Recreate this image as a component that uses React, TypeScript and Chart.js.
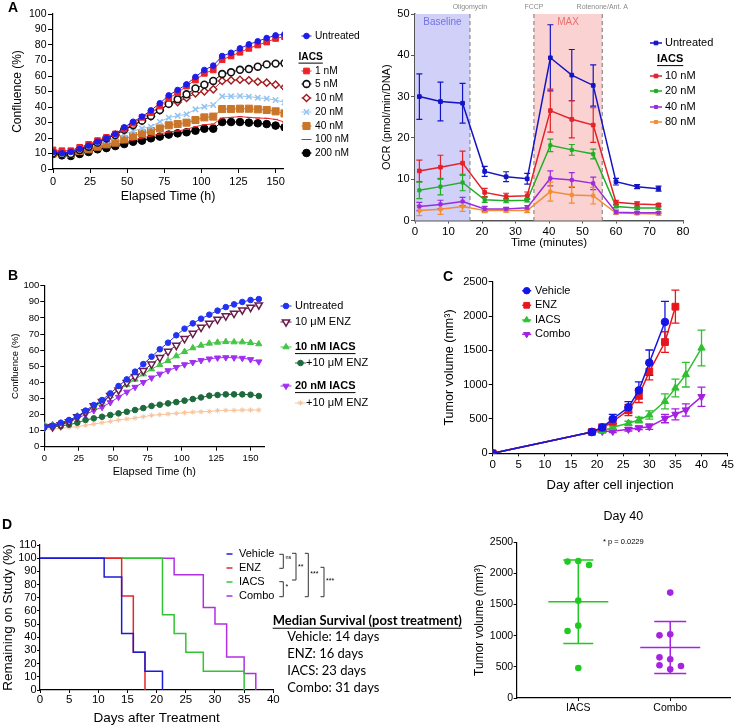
import React, { useEffect, useRef } from 'react';
import { Chart, registerables } from 'chart.js';

Chart.register(...registerables);

const FONT = "'Liberation Sans', Arial, Helvetica, sans-serif";
Chart.defaults.font.family = FONT;
Chart.defaults.color = '#000';

// ---------------- Panel A (left): confluence vs time ----------------
const A_HOURS = [0, 6, 12, 18, 24, 30, 36, 42, 48, 54, 60, 66, 72, 78, 84, 90, 96, 102, 108, 114, 120, 126, 132, 138, 144, 150, 156];
const A_UNTREATED = [10.8, 10.1, 11.0, 12.9, 15.0, 17.6, 19.8, 22.6, 26.9, 30.5, 33.8, 37.8, 42.4, 47.5, 51.0, 54.6, 59.4, 63.9, 66.7, 72.9, 75.0, 77.8, 80.4, 82.4, 84.5, 86.2, 87.0];
const A_1NM = [12.3, 11.8, 11.8, 14.0, 15.9, 18.3, 20.4, 22.6, 26.0, 29.5, 33.3, 36.3, 40.6, 45.6, 49.2, 53.5, 57.4, 61.7, 63.9, 70.5, 72.9, 75.3, 77.8, 80.0, 81.9, 84.2, 85.4];
const A_5NM = [10.1, 9.5, 9.7, 12.3, 14.4, 17.0, 19.8, 21.9, 25.4, 28.4, 31.2, 34.2, 38.0, 42.0, 45.0, 48.2, 52.0, 54.4, 56.8, 61.3, 62.4, 64.0, 64.5, 66.0, 67.5, 68.0, 68.2];
const A_10NM = [11.0, 10.8, 10.5, 13.0, 15.0, 17.5, 19.5, 22.0, 25.0, 28.0, 31.0, 34.0, 37.8, 42.0, 43.2, 45.8, 48.8, 50.1, 51.4, 56.8, 57.2, 57.6, 57.2, 56.3, 55.7, 54.4, 52.7];
const A_20NM = [11.2, 11.0, 11.2, 12.9, 14.4, 16.6, 18.3, 20.4, 22.4, 24.5, 26.2, 27.3, 30.5, 33.1, 34.4, 35.3, 38.5, 40.2, 41.3, 46.9, 46.9, 47.1, 46.7, 46.0, 45.4, 44.5, 43.0];
const A_40NM = [10.1, 9.7, 9.7, 11.6, 12.7, 14.4, 15.9, 17.0, 19.1, 21.3, 23.0, 24.5, 26.2, 28.2, 29.0, 29.9, 31.6, 33.3, 33.8, 38.7, 38.7, 38.9, 38.9, 38.5, 38.1, 37.2, 35.9];
const A_100NM = [11.0, 10.1, 10.1, 11.6, 12.7, 13.8, 14.8, 16.1, 17.0, 18.7, 20.0, 21.3, 22.6, 23.9, 24.5, 25.6, 27.3, 28.6, 29.0, 32.9, 33.3, 33.8, 33.3, 32.9, 32.7, 32.0, 30.3];
const A_200NM = [9.7, 8.8, 8.4, 9.7, 11.0, 12.7, 13.5, 14.8, 16.1, 17.6, 18.3, 19.8, 20.9, 22.2, 23.0, 23.7, 24.7, 26.0, 26.0, 30.3, 30.3, 30.3, 29.9, 29.5, 29.0, 28.0, 26.9];
const A_X_TICKS = [0, 25, 50, 75, 100, 125, 150];

// ---------------- Panel A (right): OCR ----------------
const OCR_MINUTES = [1.3, 7.6, 14.2, 20.8, 27.2, 33.5, 40.4, 46.8, 53.2, 60.0, 66.3, 72.7];
const OCR_UNTREATED = [30.0, 28.8, 28.4, 11.9, 10.6, 10.1, 39.4, 35.2, 32.7, 9.4, 8.2, 7.7];
const OCR_UNTREATED_ERR = [5.5, 4.7, 4.8, 1.2, 1.2, 1.3, 8.0, 6.2, 5.0, 0.8, 0.5, 0.6];
const OCR_10NM = [12.0, 12.9, 13.9, 6.8, 5.8, 6.0, 26.6, 24.5, 23.1, 4.4, 4.0, 3.8];
const OCR_10NM_ERR = [2.6, 2.9, 2.9, 1.0, 0.8, 0.9, 5.2, 4.5, 4.2, 0.5, 0.5, 0.3];
const OCR_20NM = [7.3, 8.2, 9.2, 5.0, 4.8, 4.9, 18.2, 17.1, 16.1, 3.4, 3.0, 3.0];
const OCR_20NM_ERR = [2.0, 2.0, 2.0, 0.6, 0.5, 0.4, 1.5, 1.3, 1.2, 0.3, 0.3, 0.3];
const OCR_40NM = [3.4, 3.9, 4.6, 2.8, 2.8, 3.1, 10.2, 9.8, 9.0, 2.0, 1.9, 1.9];
const OCR_40NM_ERR = [1.0, 1.0, 1.0, 0.6, 0.4, 0.5, 1.8, 1.8, 1.5, 0.5, 0.3, 0.2];
const OCR_80NM = [2.4, 2.7, 3.4, 2.4, 2.4, 2.4, 7.0, 6.2, 6.0, 1.8, 1.7, 1.6];
const OCR_80NM_ERR = [1.2, 1.2, 1.2, 0.5, 0.4, 0.5, 2.3, 2.0, 2.0, 0.3, 0.3, 0.3];
const OCR_INJECTION_NAMES = ['Oligomycin', 'FCCP', 'Rotenone/Ant. A'];
const OCR_INJECTION_TIMES = [16.4, 35.5, 55.9];
const OCR_BASELINE = [0, 16.4];
const OCR_MAX = [35.5, 55.9];

// ---------------- Panel B ----------------
const B_HOURS = [0, 6, 12, 18, 24, 30, 36, 42, 48, 54, 60, 66, 72, 78, 84, 90, 96, 102, 108, 114, 120, 126, 132, 138, 144, 150, 156];
const B_UNTREATED = [12.0, 13.0, 14.9, 16.6, 18.8, 22.4, 25.9, 29.0, 33.1, 37.7, 41.8, 46.6, 51.3, 55.9, 60.5, 64.6, 69.2, 73.3, 76.6, 79.5, 82.0, 84.5, 86.7, 88.4, 89.9, 91.1, 91.7];
const B_ENZ = [12.0, 12.4, 13.5, 15.5, 18.6, 21.5, 25.3, 28.0, 31.7, 35.2, 39.8, 43.5, 47.2, 51.3, 55.3, 59.2, 62.9, 67.1, 70.4, 74.1, 76.6, 79.1, 81.2, 82.8, 84.9, 86.5, 88.0];
const B_IACS10 = [13.3, 13.7, 14.5, 16.1, 19.0, 21.7, 24.8, 27.7, 31.5, 35.6, 38.5, 41.8, 45.1, 48.2, 50.9, 53.4, 56.3, 59.0, 61.3, 62.9, 64.2, 64.8, 65.2, 65.0, 65.0, 64.6, 63.8];
const B_IACS10_ENZ = [12.0, 12.4, 12.8, 13.7, 14.9, 16.6, 17.6, 18.6, 19.7, 20.7, 21.7, 22.8, 24.0, 25.3, 26.1, 26.9, 27.7, 28.6, 29.6, 30.6, 31.7, 32.1, 32.5, 32.5, 32.5, 32.3, 31.5];
const B_IACS20 = [13.0, 13.3, 14.0, 15.5, 17.5, 20.0, 22.5, 24.5, 27.5, 30.8, 34.0, 37.0, 40.0, 42.8, 45.2, 47.3, 49.3, 51.0, 52.4, 53.6, 54.6, 55.2, 55.4, 55.3, 55.0, 54.2, 52.8];
const B_IACS20_ENZ = [10.8, 11.0, 11.4, 12.0, 12.4, 13.3, 14.1, 14.9, 15.7, 16.6, 17.2, 17.8, 18.6, 19.5, 19.9, 20.3, 20.7, 21.1, 21.5, 21.7, 21.9, 22.4, 22.6, 22.6, 22.8, 22.8, 22.8];

// ---------------- Panel C ----------------
const C_VEHICLE_DAYS = [0, 19, 21, 23, 26, 28, 30, 33];
const C_VEHICLE = [0, 311, 379, 500, 670, 917, 1320, 1913];
const C_VEHICLE_ERR = [0, 30, 45, 68, 82, 125, 185, 300];
const C_ENZ_DAYS = [0, 19, 21, 23, 26, 28, 30, 33, 35];
const C_ENZ = [0, 311, 369, 461, 631, 840, 1189, 1621, 2136];
const C_ENZ_ERR = [0, 25, 40, 60, 80, 100, 120, 150, 240];
const C_IACS_DAYS = [0, 19, 21, 23, 26, 28, 30, 33, 35, 37, 40];
const C_IACS = [0, 311, 325, 379, 437, 485, 558, 757, 951, 1146, 1534];
const C_IACS_ERR = [0, 20, 25, 30, 30, 40, 60, 110, 130, 180, 260];
const C_COMBO_DAYS = [0, 19, 21, 23, 26, 28, 30, 33, 35, 37, 40];
const C_COMBO = [0, 311, 320, 320, 350, 369, 388, 505, 568, 631, 825];
const C_COMBO_ERR = [0, 20, 20, 20, 25, 25, 40, 60, 80, 90, 140];

// ---------------- Panel D (left): survival ----------------
const D_VEHICLE_T = [0, 11, 14, 16, 18, 21];
const D_VEHICLE_S = [100, 85.7, 42.9, 28.6, 14.3, 0];
const D_ENZ_T = [0, 14, 16, 18];
const D_ENZ_S = [100, 71.4, 28.6, 0];
const D_IACS_T = [0, 21, 23, 25, 28, 35];
const D_IACS_S = [100, 57.1, 42.9, 28.6, 14.3, 0];
const D_COMBO_T = [0, 23, 28, 30, 32, 35, 37];
const D_COMBO_S = [100, 87.5, 62.5, 50, 25, 12.5, 0];
const D_MEDIAN_TITLE = 'Median Survival (post treatment)';
const D_MEDIAN_LINES = ['Vehicle: 14 days', 'ENZ: 16 days', 'IACS: 23 days', 'Combo: 31 days'];
const D_SIG = ['ns', '*', '**', '***', '***'];

// ---------------- Panel D (right): day 40 ----------------
const D40_GROUPS = ['IACS', 'Combo'];
const D40_IACS = [2200, 2190, 2136, 1563, 1162, 1076, 482];
const D40_COMBO = [1692, 1022, 1006, 621, 653, 525, 460, 514];
const D40_PVALUE = '* p = 0.0229';

// ====================== helpers ======================
function series(label: string, xs: number[], ys: number[], st: any) {
  return {
    label,
    data: xs.map((x, i) => ({ x, y: ys[i] })),
    borderColor: st.color,
    backgroundColor: st.fill ?? st.color,
    borderWidth: st.lw ?? 1,
    pointStyle: st.style ?? 'circle',
    pointRadius: st.r ?? 0,
    pointHoverRadius: st.r ?? 0,
    pointRotation: st.rot ?? 0,
    pointBackgroundColor: st.fill ?? st.color,
    pointBorderColor: st.color,
    pointBorderWidth: st.pbw ?? 1,
    tension: 0,
    fill: false,
    stepped: st.stepped ?? false,
    showLine: st.showLine ?? true,
    errorBars: st.err,
    errCap: st.cap ?? 3,
  };
}

function linAxis(o: any) {
  const ticks: any = {
    font: { size: o.fs },
    padding: o.pad,
    color: '#000',
    autoSkip: false,
    maxRotation: 0,
    callback: o.cb ?? ((v: any) => String(v)),
  };
  if (o.step !== undefined) ticks.stepSize = o.step;
  const ax: any = {
    type: 'linear',
    min: o.min,
    max: o.max,
    afterFit: (s: any) => {
      if (o.w !== undefined) s.width = o.w;
      if (o.h !== undefined) s.height = o.h;
    },
    ticks,
    grid: { drawOnChartArea: false, drawTicks: true, tickLength: o.tl, color: o.color || '#000', lineWidth: 1 },
    border: { display: true, color: o.color || '#000', width: o.bw || 1.2 },
    title: o.title
      ? { display: true, text: o.title, font: { size: o.tfs }, padding: o.tpad, color: '#000' }
      : { display: false },
  };
  if (o.tickValues) {
    ax.afterBuildTicks = (s: any) => {
      s.ticks = o.tickValues.map((v: number) => ({ value: v }));
    };
  }
  return ax;
}

function baseOptions(padding: any) {
  return {
    responsive: false,
    maintainAspectRatio: false,
    animation: false,
    events: [],
    layout: { padding },
    plugins: { legend: { display: false }, tooltip: { enabled: false }, title: { display: false } },
  };
}

function drawMarker(ctx: any, style: string, r: number, rotDeg: number, x: number, y: number, fill: string, stroke: string, bw: number) {
  if (!r) return;
  ctx.save();
  ctx.translate(x, y);
  ctx.rotate(((rotDeg || 0) * Math.PI) / 180);
  ctx.beginPath();
  let fillable = true;
  switch (style) {
    case 'rect': {
      const s = r * Math.SQRT1_2;
      ctx.rect(-s, -s, 2 * s, 2 * s);
      break;
    }
    case 'rectRot': {
      ctx.moveTo(0, -r);
      ctx.lineTo(r, 0);
      ctx.lineTo(0, r);
      ctx.lineTo(-r, 0);
      ctx.closePath();
      break;
    }
    case 'triangle': {
      for (let k = 0; k < 3; k++) {
        const a = (k * 2 * Math.PI) / 3;
        const px = Math.sin(a) * r;
        const py = -Math.cos(a) * r;
        if (k === 0) ctx.moveTo(px, py);
        else ctx.lineTo(px, py);
      }
      ctx.closePath();
      break;
    }
    case 'crossRot': {
      fillable = false;
      const s = r * Math.SQRT1_2;
      ctx.moveTo(-s, -s); ctx.lineTo(s, s);
      ctx.moveTo(-s, s); ctx.lineTo(s, -s);
      break;
    }
    case 'star': {
      fillable = false;
      const s = r * Math.SQRT1_2;
      ctx.moveTo(-s, -s); ctx.lineTo(s, s);
      ctx.moveTo(-s, s); ctx.lineTo(s, -s);
      ctx.moveTo(0, -r); ctx.lineTo(0, r);
      ctx.moveTo(-r, 0); ctx.lineTo(r, 0);
      break;
    }
    case 'line': {
      fillable = false;
      ctx.moveTo(-r, 0);
      ctx.lineTo(r, 0);
      break;
    }
    default:
      ctx.arc(0, 0, r, 0, Math.PI * 2);
  }
  if (fillable) {
    ctx.fillStyle = fill;
    ctx.fill();
  }
  if (bw > 0) {
    ctx.lineWidth = bw;
    ctx.strokeStyle = stroke;
    ctx.stroke();
  }
  ctx.restore();
}

function fontStr(size: number, bold?: boolean, family?: string) {
  return `${bold ? 'bold ' : ''}${size}px ${family || FONT}`;
}

function panelPlugin(spec: any) {
  return {
    id: 'panelDecor',
    beforeDatasetsDraw(chart: any) {
      const { ctx, chartArea: ca, scales } = chart;
      const xs = scales.x;
      const ys = scales.y;
      (spec.boxes || []).forEach((b: any) => {
        const x1 = xs.getPixelForValue(b.from);
        const x2 = xs.getPixelForValue(b.to);
        ctx.save();
        ctx.fillStyle = b.color;
        ctx.fillRect(x1, ca.top, x2 - x1, ca.bottom - ca.top);
        ctx.restore();
      });
      (spec.vlines || []).forEach((v: any) => {
        const x = xs.getPixelForValue(v.x);
        ctx.save();
        ctx.strokeStyle = v.color;
        ctx.lineWidth = v.width || 1;
        ctx.setLineDash(v.dash || []);
        ctx.beginPath();
        ctx.moveTo(x, ca.top);
        ctx.lineTo(x, ca.bottom);
        ctx.stroke();
        ctx.restore();
      });
      chart.data.datasets.forEach((ds: any, i: number) => {
        if (!ds.errorBars) return;
        const meta = chart.getDatasetMeta(i);
        ctx.save();
        ctx.strokeStyle = ds.borderColor;
        ctx.lineWidth = spec.errWidth || 1.2;
        meta.data.forEach((el: any, j: number) => {
          const e = ds.errorBars[j];
          if (!e) return;
          const v = ds.data[j].y;
          const yT = ys.getPixelForValue(v + e);
          const yB = ys.getPixelForValue(v - e);
          const c = ds.errCap;
          ctx.beginPath();
          ctx.moveTo(el.x, yT);
          ctx.lineTo(el.x, yB);
          ctx.moveTo(el.x - c, yT);
          ctx.lineTo(el.x + c, yT);
          ctx.moveTo(el.x - c, yB);
          ctx.lineTo(el.x + c, yB);
          ctx.stroke();
        });
        ctx.restore();
      });
    },
    afterDatasetsDraw(chart: any) {
      const { ctx, scales } = chart;
      const xs = scales.x;
      const ys = scales.y;
      (spec.meanSd || []).forEach((m: any) => {
        const ds = chart.data.datasets[m.ds];
        const vals = ds.data.map((p: any) => p.y);
        const n = vals.length;
        const mean = vals.reduce((a: number, b: number) => a + b, 0) / n;
        const sd = Math.sqrt(vals.reduce((a: number, b: number) => a + (b - mean) * (b - mean), 0) / (n - 1));
        const cx = xs.getPixelForValue(m.center);
        const yM = ys.getPixelForValue(mean);
        const yT = ys.getPixelForValue(mean + sd);
        const yB = ys.getPixelForValue(mean - sd);
        ctx.save();
        ctx.strokeStyle = ds.borderColor;
        ctx.lineWidth = m.width || 1.5;
        ctx.beginPath();
        ctx.moveTo(cx - m.half, yM); ctx.lineTo(cx + m.half, yM);
        ctx.moveTo(cx, yT); ctx.lineTo(cx, yB);
        ctx.moveTo(cx - m.cap, yT); ctx.lineTo(cx + m.cap, yT);
        ctx.moveTo(cx - m.cap, yB); ctx.lineTo(cx + m.cap, yB);
        ctx.stroke();
        ctx.restore();
      });
    },
    afterDraw(chart: any) {
      const { ctx, chartArea: ca, scales } = chart;
      const xs = scales.x;
      (spec.lines || []).forEach((l: any) => {
        ctx.save();
        ctx.strokeStyle = l.color || '#333';
        ctx.lineWidth = l.width || 1;
        ctx.beginPath();
        ctx.moveTo(l.x1, l.y1);
        ctx.lineTo(l.x2, l.y2);
        ctx.stroke();
        ctx.restore();
      });
      (spec.texts || []).forEach((t: any) => {
        let x = t.x;
        if (t.xData !== undefined) x = xs.getPixelForValue(t.xData);
        if (t.xca !== undefined) x = ca.left + t.xca * (ca.right - ca.left);
        ctx.save();
        ctx.font = fontStr(t.size, t.bold, t.family);
        ctx.fillStyle = t.color || '#000';
        ctx.textAlign = t.align || 'left';
        ctx.textBaseline = 'middle';
        ctx.fillText(t.text, x, t.y);
        if (t.underline) {
          const w = ctx.measureText(t.text).width;
          const x0 = t.align === 'center' ? x - w / 2 : x;
          ctx.strokeStyle = t.color || '#000';
          ctx.lineWidth = 1;
          ctx.beginPath();
          ctx.moveTo(x0, t.y + t.size * 0.58);
          ctx.lineTo(x0 + w, t.y + t.size * 0.58);
          ctx.stroke();
        }
        ctx.restore();
      });
      const L = spec.legend;
      if (L) {
        L.items.forEach((it: any) => {
          const mx = it.mx ?? L.mx;
          const tx = it.tx ?? L.tx;
          let label = it.text;
          if (it.ds !== undefined) {
            const ds = chart.data.datasets[it.ds];
            label = label ?? ds.label;
            if (L.lineHalf > 0) {
              ctx.save();
              ctx.strokeStyle = ds.borderColor;
              ctx.lineWidth = ds.borderWidth;
              ctx.beginPath();
              ctx.moveTo(mx - L.lineHalf, it.y);
              ctx.lineTo(mx + L.lineHalf, it.y);
              ctx.stroke();
              ctx.restore();
            }
            drawMarker(ctx, ds.pointStyle, ds.pointRadius * (L.markerScale || 1), ds.pointRotation, mx, it.y,
              ds.pointBackgroundColor, ds.pointBorderColor, ds.pointBorderWidth);
          }
          ctx.save();
          ctx.font = fontStr(L.size, it.bold);
          ctx.fillStyle = '#000';
          ctx.textAlign = 'left';
          ctx.textBaseline = 'middle';
          const x0 = it.hx ?? tx;
          ctx.fillText(label, x0, it.y);
          if (it.underline) {
            const w = ctx.measureText(label).width;
            ctx.strokeStyle = '#000';
            ctx.lineWidth = 1;
            ctx.beginPath();
            ctx.moveTo(x0, it.y + L.size * 0.6);
            ctx.lineTo(x0 + w, it.y + L.size * 0.6);
            ctx.stroke();
          }
          ctx.restore();
        });
      }
    },
  };
}

function bracket(x: number, y1: number, y2: number, arm: number) {
  return [
    { x1: x - arm, y1, x2: x, y2: y1 },
    { x1: x, y1, x2: x, y2 },
    { x1: x - arm, y1: y2, x2: x, y2 },
  ];
}

function swarm(values: number[], thr: number, step: number) {
  const placed: any[] = [];
  const slots = [0, -1, 1, -2, 2, -3, 3];
  return values.map((v) => {
    for (const c of slots) {
      if (!placed.some((p) => p.c === c && Math.abs(p.v - v) < thr)) {
        placed.push({ v, c });
        return c * step;
      }
    }
    return 0;
  });
}

// ====================== chart configs ======================
function configALeft() {
  const datasets = [
    series('Untreated', A_HOURS, A_UNTREATED, { color: '#1d1dea', style: 'circle', r: 2.8, lw: 1 }),
    series('1 nM', A_HOURS, A_1NM, { color: '#ec2227', style: 'rect', r: 4, lw: 1 }),
    series('5 nM', A_HOURS, A_5NM, { color: '#111', fill: '#fff', style: 'circle', r: 3.4, lw: 1, pbw: 1.6 }),
    series('10 nM', A_HOURS, A_10NM, { color: '#a3191b', fill: '#fff', style: 'rectRot', r: 3.6, lw: 1, pbw: 1.4 }),
    series('20 nM', A_HOURS, A_20NM, { color: '#93c4ef', style: 'crossRot', r: 3.8, lw: 1, pbw: 1.5 }),
    series('40 nM', A_HOURS, A_40NM, { color: '#c9762a', style: 'rect', r: 5, lw: 1 }),
    series('100 nM', A_HOURS, A_100NM, { color: '#e4262c', style: 'line', r: 2.5, lw: 1, pbw: 1 }),
    series('200 nM', A_HOURS, A_200NM, { color: '#000', style: 'circle', r: 3.8, lw: 1 }),
  ];
  const spec = {
    texts: [{ text: 'A', x: 13, y: 8, size: 14, bold: true, align: 'center' }],
    legend: {
      size: 10.2, mx: 306.5, tx: 315, lineHalf: 5,
      items: [
        { ds: 0, y: 36 },
        { text: 'IACS', hx: 298.5, y: 57, bold: true, underline: true },
        { ds: 1, y: 71 }, { ds: 2, y: 84 }, { ds: 3, y: 98 }, { ds: 4, y: 112 },
        { ds: 5, y: 126 }, { ds: 6, y: 139.5 }, { ds: 7, y: 153 },
      ],
    },
  };
  return {
    type: 'line',
    data: { datasets },
    options: {
      ...baseOptions({ left: 0, top: 14, right: 87, bottom: 0 }),
      scales: {
        x: linAxis({ min: 0, max: 155, tickValues: A_X_TICKS, h: 46, fs: 11, tl: 4, pad: 2, title: 'Elapsed Time (h)', tfs: 12.5, tpad: { top: 0, bottom: 10.5 } }),
        y: linAxis({ min: 0, max: 100, step: 10, w: 53, fs: 10.5, tl: 5, pad: 1.5, title: 'Confluence (%)', tfs: 12, tpad: { top: 10.8, bottom: 0 } }),
      },
    },
    plugins: [panelPlugin(spec)],
  };
}

function configARight() {
  const datasets = [
    series('Untreated', OCR_MINUTES, OCR_UNTREATED, { color: '#1414c4', style: 'rect', r: 2.6, lw: 1.5, err: OCR_UNTREATED_ERR, cap: 3 }),
    series('10 nM', OCR_MINUTES, OCR_10NM, { color: '#e3222a', style: 'rect', r: 2.6, lw: 1.5, err: OCR_10NM_ERR, cap: 3 }),
    series('20 nM', OCR_MINUTES, OCR_20NM, { color: '#1fae25', style: 'rect', r: 2.2, lw: 1.5, err: OCR_20NM_ERR, cap: 3 }),
    series('40 nM', OCR_MINUTES, OCR_40NM, { color: '#9a2ddb', style: 'rect', r: 2.2, lw: 1.5, err: OCR_40NM_ERR, cap: 3 }),
    series('80 nM', OCR_MINUTES, OCR_80NM, { color: '#f28c36', style: 'rect', r: 2.2, lw: 1.5, err: OCR_80NM_ERR, cap: 3 }),
  ];
  const spec = {
    boxes: [
      { from: OCR_BASELINE[0], to: OCR_BASELINE[1], color: '#d0d0f9' },
      { from: OCR_MAX[0], to: OCR_MAX[1], color: '#fbd2d2' },
    ],
    vlines: OCR_INJECTION_TIMES.map((t) => ({ x: t, color: '#8a8a8a', dash: [4, 3], width: 1.2 })),
    errWidth: 1.2,
    texts: [
      ...OCR_INJECTION_NAMES.map((n, i) => ({ text: n, xData: OCR_INJECTION_TIMES[i], y: 7, size: 7, color: '#8a8a8a', align: 'center' })),
      { text: 'Baseline', xData: (OCR_BASELINE[0] + OCR_BASELINE[1]) / 2, y: 22, size: 10, color: '#7373e6', align: 'center' },
      { text: 'MAX', xData: (OCR_MAX[0] + OCR_MAX[1]) / 2, y: 22, size: 10, color: '#ea6f70', align: 'center' },
    ],
    legend: {
      size: 11, mx: 286, tx: 295, lineHalf: 6,
      items: [
        { ds: 0, y: 43 },
        { text: 'IACS', hx: 287, y: 59, bold: true, underline: true },
        { ds: 1, y: 76 }, { ds: 2, y: 91 }, { ds: 3, y: 107 }, { ds: 4, y: 122 },
      ],
    },
  };
  return {
    type: 'line',
    data: { datasets },
    options: {
      ...baseOptions({ left: 0, top: 14, right: 53, bottom: 0 }),
      scales: {
        x: linAxis({ min: 0, max: 80, step: 10, h: 31.5, fs: 11.5, tl: 3, pad: 1.5, color: '#555', bw: 1.5, title: 'Time (minutes)', tfs: 11.5, tpad: { top: 0, bottom: 1.8 } }),
        y: linAxis({ min: 0, max: 50, step: 10, w: 45, fs: 11, tl: 4, pad: 1.5, color: '#555', bw: 1.5, title: 'OCR (pmol/min/DNA)', tfs: 11, tpad: { top: 10.1, bottom: 0 } }),
      },
    },
    plugins: [panelPlugin(spec)],
  };
}

function configB() {
  const datasets = [
    series('Untreated', B_HOURS, B_UNTREATED, { color: '#2233f2', style: 'circle', r: 2.8, lw: 1 }),
    series('10 μM ENZ', B_HOURS, B_ENZ, { color: '#6a1d4c', fill: '#fff', style: 'triangle', rot: 180, r: 4.2, lw: 1, pbw: 1.5 }),
    series('10 nM IACS', B_HOURS, B_IACS10, { color: '#47c447', style: 'triangle', r: 3.6, lw: 1 }),
    series('+10 μM ENZ', B_HOURS, B_IACS10_ENZ, { color: '#1d6a3d', style: 'circle', r: 2.8, lw: 1 }),
    series('20 nM IACS', B_HOURS, B_IACS20, { color: '#a12ff0', style: 'triangle', rot: 180, r: 3.6, lw: 1 }),
    series('+10 μM ENZ', B_HOURS, B_IACS20_ENZ, { color: '#f6c49c', style: 'star', r: 2.6, lw: 1, pbw: 1 }),
  ];
  const spec = {
    texts: [{ text: 'B', x: 13, y: 11.5, size: 14, bold: true, align: 'center' }],
    legend: {
      size: 11, mx: 286, tx: 295, lineHalf: 5.5,
      items: [
        { ds: 0, y: 41 },
        { ds: 1, y: 57 },
        { ds: 2, y: 82, bold: true, underline: true },
        { ds: 3, y: 98, mx: 300.5, tx: 306 },
        { ds: 4, y: 121, bold: true, underline: true },
        { ds: 5, y: 138, mx: 300.5, tx: 306 },
      ],
    },
  };
  return {
    type: 'line',
    data: { datasets },
    options: {
      ...baseOptions({ left: 0, top: 20.7, right: 115.7, bottom: 0 }),
      scales: {
        x: linAxis({ min: 0, max: 160, tickValues: A_X_TICKS, h: 43.3, fs: 9.5, tl: 4, pad: 2, title: 'Elapsed Time (h)', tfs: 11, tpad: { top: 0, bottom: 11.4 } }),
        y: linAxis({ min: 0, max: 100, step: 10, w: 44.3, fs: 9.5, tl: 4, pad: 1, title: 'Confluence (%)', tfs: 9.5, tpad: { top: 9.3, bottom: 0 } }),
      },
    },
    plugins: [panelPlugin(spec)],
  };
}

function configC() {
  const datasets = [
    series('Vehicle', C_VEHICLE_DAYS, C_VEHICLE, { color: '#1414e6', style: 'circle', r: 3.8, lw: 1.5, err: C_VEHICLE_ERR, cap: 4 }),
    series('ENZ', C_ENZ_DAYS, C_ENZ, { color: '#e8161c', style: 'rect', r: 4.8, lw: 1.5, err: C_ENZ_ERR, cap: 4 }),
    series('IACS', C_IACS_DAYS, C_IACS, { color: '#2fbf2f', style: 'triangle', r: 4.2, lw: 1.5, err: C_IACS_ERR, cap: 4 }),
    series('Combo', C_COMBO_DAYS, C_COMBO, { color: '#a51fe3', style: 'triangle', rot: 180, r: 4.2, lw: 1.5, err: C_COMBO_ERR, cap: 4 }),
  ];
  const spec = {
    errWidth: 1.3,
    texts: [{ text: 'C', x: 68, y: 12, size: 14, bold: true, align: 'center' }],
    legend: {
      size: 11, mx: 146.7, tx: 155, lineHalf: 4.5, markerScale: 0.85,
      items: [{ ds: 0, y: 25.7 }, { ds: 1, y: 40.3 }, { ds: 2, y: 55 }, { ds: 3, y: 69.3 }],
    },
  };
  return {
    type: 'line',
    data: { datasets },
    options: {
      ...baseOptions({ left: 0, top: 16.7, right: 7.7, bottom: 0 }),
      scales: {
        x: linAxis({ min: 0, max: 45, step: 5, h: 46.7, fs: 11.5, tl: 3, pad: 2, title: 'Day after cell injection', tfs: 13, tpad: { top: 0, bottom: 7.2 } }),
        y: linAxis({ min: 0, max: 2500, step: 500, w: 112.7, fs: 11, tl: 4, pad: 1, title: 'Tumor volume (mm³)', tfs: 12.5, tpad: { top: 62.5, bottom: 0 } }),
      },
    },
    plugins: [panelPlugin(spec)],
  };
}

function configDLeft() {
  const datasets = [
    series('Vehicle', D_VEHICLE_T, D_VEHICLE_S, { color: '#1c1cd8', r: 0, lw: 1.5, stepped: 'before' }),
    series('ENZ', D_ENZ_T, D_ENZ_S, { color: '#e5262c', r: 0, lw: 1.5, stepped: 'before' }),
    series('IACS', D_IACS_T, D_IACS_S, { color: '#33c433', r: 0, lw: 1.5, stepped: 'before' }),
    series('Combo', D_COMBO_T, D_COMBO_S, { color: '#b22ee3', r: 0, lw: 1.5, stepped: 'before' }),
  ];
  const brackets = [
    ...bracket(283.3, 44.3, 58.3, 4),
    ...bracket(283.3, 71.7, 86.7, 4),
    ...bracket(296, 43.3, 70, 4),
    ...bracket(308.3, 43.3, 86.7, 3.5),
    ...bracket(324, 57.3, 86.7, 3.5),
  ].map((l) => ({ ...l, color: '#333', width: 1 }));
  const spec = {
    lines: brackets,
    texts: [
      { text: 'D', x: 7, y: 15, size: 14, bold: true, align: 'center' },
      { text: D_SIG[0], x: 285.5, y: 47.5, size: 5.5 },
      { text: D_SIG[1], x: 285.5, y: 77.5, size: 7 },
      { text: D_SIG[2], x: 298, y: 57, size: 7 },
      { text: D_SIG[3], x: 310.3, y: 64, size: 7 },
      { text: D_SIG[4], x: 326, y: 71, size: 7 },
      { text: D_MEDIAN_TITLE, x: 272.7, y: 110.7, size: 13, bold: true, underline: true, family: 'Lato, sans-serif' },
      ...D_MEDIAN_LINES.map((t, i) => ({ text: t, x: 287.3, y: 127.3 + i * 16.7, size: 13, family: 'Lato, sans-serif' })),
    ],
    legend: {
      size: 11, mx: 229.5, tx: 239, lineHalf: 3,
      items: [{ ds: 0, y: 44 }, { ds: 1, y: 58 }, { ds: 2, y: 72 }, { ds: 3, y: 86 }],
    },
  };
  return {
    type: 'line',
    data: { datasets },
    options: {
      ...baseOptions({ left: 0, top: 35, right: 206.7, bottom: 0 }),
      scales: {
        x: linAxis({ min: 0, max: 40, step: 5, h: 37, fs: 11.5, tl: 3, pad: 0, title: 'Days after Treatment', tfs: 13.5, tpad: { top: 0, bottom: 0.9 } }),
        y: linAxis({ min: 0, max: 110, step: 10, w: 40, fs: 11, tl: 3, pad: 0.5, title: 'Remaining on Study (%)', tfs: 13.5, tpad: { top: 0, bottom: 0 } }),
      },
    },
    plugins: [panelPlugin(spec)],
  };
}

function configDRight() {
  const step = 0.117;
  const thr = 112;
  const jI = swarm(D40_IACS, thr, step);
  const jC = swarm(D40_COMBO, thr, step);
  const mk = (label: string, vals: number[], jit: number[], center: number, color: string) => ({
    label,
    data: vals.map((v, i) => ({ x: center + jit[i], y: v })),
    borderColor: color,
    backgroundColor: color,
    pointBackgroundColor: color,
    pointBorderColor: color,
    pointRadius: 3.3,
    pointHoverRadius: 3.3,
    pointBorderWidth: 0,
    showLine: false,
  });
  const datasets = [
    mk(D40_GROUPS[0], D40_IACS, jI, 1, '#22c922'),
    mk(D40_GROUPS[1], D40_COMBO, jC, 2, '#a624e0'),
  ];
  const spec = {
    meanSd: [
      { ds: 0, center: 1, half: 30, cap: 15, width: 1.5 },
      { ds: 1, center: 2, half: 30, cap: 16, width: 1.5 },
    ],
    texts: [
      { text: 'Day 40', xca: 0.5, y: 11.7, size: 12.5, align: 'center' },
      { text: D40_PVALUE, xca: 0.5, y: 36.5, size: 7.5, align: 'center' },
    ],
  };
  return {
    type: 'scatter',
    data: { datasets },
    options: {
      ...baseOptions({ left: 0, top: 37.3, right: 6, bottom: 0 }),
      scales: {
        x: linAxis({ min: 0.33, max: 2.65, tickValues: [1, 2], cb: (v: any) => D40_GROUPS[Math.round(v) - 1] ?? '', h: 29, fs: 10.5, tl: 3, pad: 1 }),
        y: linAxis({ min: 0, max: 2500, step: 500, w: 46.7, fs: 10.5, tl: 3, pad: 0.5, title: 'Tumor volume (mm³)', tfs: 12, tpad: { top: 2.8, bottom: 0 } }),
      },
    },
    plugins: [panelPlugin(spec)],
  };
}

function ChartCanvas({ x, y, w, h, make }: any) {
  const ref = useRef<HTMLCanvasElement | null>(null);
  useEffect(() => {
    if (!ref.current) return;
    const chart = new Chart(ref.current, make());
    return () => chart.destroy();
  }, []);
  return (
    <canvas
      ref={ref}
      width={w}
      height={h}
      style={{ position: 'absolute', left: x, top: y, width: w, height: h, display: 'block' }}
    />
  );
}

export default function App() {
  return (
    <div style={{ position: 'absolute', left: 0, top: 0, width: 736, height: 727, background: '#fff', overflow: 'hidden' }}>
      <ChartCanvas x={0} y={0} w={370} h={215} make={configALeft} />
      <ChartCanvas x={370} y={0} w={366} h={252} make={configARight} />
      <ChartCanvas x={0} y={265} w={380} h={225} make={configB} />
      <ChartCanvas x={380} y={265} w={356} h={235} make={configC} />
      <ChartCanvas x={0} y={510} w={480} h={217} make={configDLeft} />
      <ChartCanvas x={470} y={505} w={266} h={222} make={configDRight} />
    </div>
  );
}
